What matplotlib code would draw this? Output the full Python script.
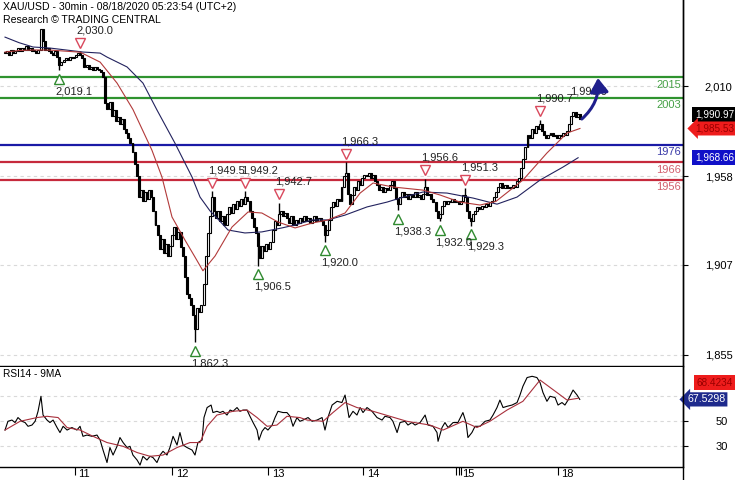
import numpy as np
import matplotlib
matplotlib.use('Agg')
import matplotlib.pyplot as plt
from matplotlib.patches import FancyArrowPatch
from matplotlib.transforms import offset_copy
from matplotlib.lines import Line2D

plt.rcParams['font.family'] = ['Liberation Sans', 'DejaVu Sans']

# ---------------- data ----------------
first_open = 2029.0
closes = [
    2029, 2030, 2028, 2031, 2029, 2030, 2032, 2030, 2032, 2031,
    2033, 2031, 2032, 2030, 2030, 2029, 2031, 2043, 2036, 2031,
    2032, 2030, 2029, 2028, 2030, 2027, 2022, 2024, 2025, 2026,
    2025, 2027, 2026, 2027, 2028, 2029, 2028, 2026, 2021, 2022,
    2020, 2021, 2019, 2021, 2020, 2019, 2018, 2015, 2000, 1997,
    2001, 1993, 1996, 1990, 1992, 1988, 1991, 1985, 1983, 1980,
    1977, 1972, 1965, 1958, 1946, 1950, 1944, 1949, 1945, 1950,
    1946, 1938, 1930, 1924, 1916, 1922, 1914, 1919, 1912, 1918,
    1924, 1929, 1922, 1926, 1917, 1912, 1900, 1890, 1888, 1884,
    1878, 1870, 1882, 1880, 1884, 1896, 1912, 1925, 1935, 1946,
    1938, 1934, 1938, 1932, 1935, 1930, 1936, 1940, 1937, 1942,
    1939, 1944, 1941, 1945, 1942, 1946, 1944, 1938, 1934, 1929,
    1925, 1918, 1911, 1918, 1915, 1919, 1916, 1920, 1927, 1932,
    1930, 1936, 1938, 1935, 1937, 1934, 1931, 1935, 1930, 1933,
    1931, 1934, 1932, 1935, 1932, 1934, 1931, 1933, 1935, 1932,
    1934, 1932, 1930, 1924, 1927, 1933, 1940, 1943, 1941, 1945,
    1944, 1952, 1958, 1960, 1948, 1942, 1947, 1952, 1950, 1955,
    1953, 1957, 1959, 1958, 1960, 1957, 1959, 1955, 1953, 1950,
    1952, 1949, 1951, 1950, 1953, 1955, 1951, 1945, 1942, 1946,
    1949, 1946, 1948, 1945, 1948, 1946, 1949, 1946, 1947, 1945,
    1948, 1952, 1947, 1948, 1945, 1943, 1938, 1934, 1936, 1941,
    1944, 1942, 1944, 1943, 1945, 1943, 1944, 1942, 1944, 1947,
    1946, 1938, 1934, 1932, 1936, 1938, 1940, 1939, 1941, 1940,
    1942, 1941, 1943, 1944, 1946, 1949, 1952, 1954, 1951, 1953,
    1951, 1952, 1951, 1953, 1952, 1955, 1957, 1963, 1968, 1975,
    1982, 1980, 1985, 1983, 1987, 1985, 1988, 1984, 1982, 1980,
    1982, 1983, 1981, 1982, 1980, 1982, 1981, 1983, 1982, 1984,
    1988, 1993, 1995, 1992, 1994, 1990.97,
]

pivot_high_bars = [36, 99, 115, 131, 163, 201, 220, 256]
pivot_high_vals = [2030.0, 1949.5, 1949.2, 1942.7, 1966.3, 1956.6, 1951.3, 1990.7]
pivot_low_bars = [26, 91, 121, 153, 188, 208, 223]
pivot_low_vals = [2019.1, 1862.3, 1906.5, 1920.0, 1938.3, 1932.0, 1929.3]

ma_fast_bars = [0, 7, 14, 22, 36, 45.5, 53.6, 61.2, 70.3, 75.1, 79.9, 86.1, 90.9,
                94.7, 100.5, 108.6, 116.3, 122.9, 130.6, 138.8, 146.9, 154.5, 162.7,
                169.9, 176.1, 185.6, 200, 208.1, 217.7, 227.3, 234.9, 247.8, 259.3,
                268.9, 275.1]
ma_fast_vals = [2029.6, 2030.5, 2030.8, 2030.7, 2029.5, 2023.8, 2011.7, 1996.5, 1973,
                1957.5, 1934.5, 1921.2, 1911.4, 1903.5, 1912, 1928.7, 1937.4, 1936.8,
                1931.6, 1928.2, 1931, 1932.8, 1936.8, 1948.3, 1954.1, 1951.8, 1950,
                1947.2, 1943.1, 1941.4, 1943.5, 1955.8, 1971.4, 1982.9, 1985.53]

ma_slow_bars = [0, 6.7, 13.4, 21.5, 37.3, 45.5, 48.8, 58.4, 66, 72.7, 81.3, 89.5,
                93.3, 98.1, 102.9, 106.7, 114.8, 122.9, 132.5, 138.8, 146.9, 154.5,
                162.7, 173.2, 182.8, 189, 200, 211.5, 224, 235.4, 245, 256, 267, 274.2]
ma_slow_vals = [2038.2, 2035, 2032.5, 2031.9, 2029.6, 2029, 2026.7, 2021, 2011.7,
                1996.2, 1977.1, 1957.5, 1946, 1938, 1932, 1927, 1925.3, 1925.9,
                1928.2, 1929.9, 1932.8, 1932.8, 1935.6, 1940.3, 1943.1, 1945.4,
                1948.9, 1948.3, 1945.4, 1941.9, 1946, 1955.8, 1963.3, 1968.66]

rsi_bars = [0, 1.4, 3.3, 4.8, 6.2, 8.1, 9.6, 11, 12.9, 14.4,
            15.8, 17.2, 18.2, 20.1, 21.5, 23, 24.9, 26.3, 27.8, 29.7,
            32, 34.4, 35.9, 37.3, 39.2, 41.6, 44, 45.5, 46.9, 48.8,
            50.2, 51.7, 53.6, 55, 56.5, 58.4, 59.8, 61.2, 63.2, 64.6,
            66, 67.9, 69.4, 70.8, 72.7, 74.2, 75.6, 77.5, 78.9, 80.4,
            82.3, 83.7, 85.2, 87.1, 89.5, 90.9, 92.3, 94.3, 95.2, 96.7,
            98.6, 99.5, 101.4, 102.9, 104.3, 106.2, 107.7, 109.1, 111, 112.4,
            113.9, 115.8, 117.2, 118.7, 120.6, 121.5, 123, 124.4, 125.8, 127.8,
            129.2, 130.6, 133, 134.9, 136.4, 137.8, 139.7, 141.1, 142.6, 145,
            146.9, 149.3, 151.7, 153.1, 154.5, 156.5, 158.9, 161.2, 162.7, 163.6,
            164.6, 166.5, 168.4, 169.9, 171.3, 173.2, 175.6, 178, 180.4, 181.8,
            184.2, 185.6, 187.6, 189, 191.4, 192.8, 194.7, 196.2, 198.6, 201,
            202.4, 204.8, 206.7, 207.2, 209.1, 210.5, 212, 214.4, 216.7, 219.1,
            220.6, 221.5, 223.4, 224.9, 227.3, 229.7, 232, 233.5, 235.4, 236.8,
            238.3, 240.2, 242.6, 245, 246.4, 247.8, 249.8, 252.2, 254.5, 256,
            257.4, 259.3, 260.8, 263.2, 264.6, 266.5, 267.9, 269.4, 271.8, 273.7,
            275]
rsi_vals = [43, 50, 51, 49, 53, 50, 49, 46, 47, 50,
            58, 70, 55, 51, 49, 51, 45, 41, 46, 43,
            45, 43, 46, 38, 39, 38, 39, 35, 27, 17,
            29, 23, 30, 37, 33, 29, 30, 23, 19, 15,
            22, 19, 22, 21, 17, 23, 26, 23, 29, 38,
            31, 41, 31, 29, 27, 23, 33, 35, 53, 61,
            63, 57, 58, 57, 58, 55, 59, 58, 61, 58,
            59, 59, 54, 49, 43, 35, 42, 45, 43, 47,
            53, 58, 57, 57, 54, 46, 53, 50, 51, 53,
            50, 51, 53, 43, 53, 63, 66, 65, 71, 63,
            53, 58, 55, 61, 57, 61, 58, 53, 51, 54,
            53, 50, 41, 49, 50, 47, 49, 47, 49, 55,
            47, 46, 41, 34, 45, 49, 45, 49, 49, 57,
            49, 37, 41, 46, 46, 50, 51, 55, 61, 67,
            61, 62, 63, 65, 71, 78, 85, 86, 85, 81,
            73, 66, 70, 69, 63, 65, 63, 67, 75, 71,
            67.5298]

rsi_ma_bars = [0, 7.2, 15.3, 20.1, 25.4, 29.7, 35.9, 42.1, 48.8, 56.5,
               63.2, 69.4, 75.6, 82.3, 88.5, 93.3, 96.7, 101.4, 109.1, 115.8,
               120.6, 125.4, 130.1, 134.9, 141.1, 144.5, 152.2, 156.9, 162.7, 168.4,
               176.1, 184.2, 192.3, 203.3, 209.6, 219.1, 225.8, 232, 240.2, 247.8,
               256, 264.1, 268.9, 274.2]
rsi_ma_vals = [43, 50, 53, 54, 53, 45, 43, 38, 33, 30,
               25, 22, 23, 29, 33, 33, 46, 55, 58, 59,
               53, 46, 47, 54, 53, 51, 50, 57, 65, 61,
               58, 54, 50, 47, 43, 50, 45, 50, 59, 66,
               83, 73, 67, 68.4234]

level_vals = [2015, 2003, 1976, 1966, 1956]
level_labels = ['2015', '2003', '1976', '1966', '1956']
level_colors = ['#2f932f', '#2f932f', '#1a1aa6', '#c62a3c', '#c62a3c']
level_text_colors = ['#46a046', '#46a046', '#3a3aa8', '#d2606e', '#d2606e']

day_bars = [33.5, 80, 126, 171.5, 217, 264.5]
day_labels = ['11', '12', '13', '14', '15', '18']

price_ticks = [2010, 1958, 1907, 1855]
rsi_grid = [70, 50, 30]
rsi_ticks = [50, 30]

target_text = '1,996.0'
arrow_from = (276, 1991.0)
arrow_to = (283.7, 2014.6)

last_close = 1990.97
last_fast = 1985.53
last_slow = 1968.66
last_rsi = 67.5298
last_rsi_ma = 68.4234

title1 = 'XAU/USD - 30min - 08/18/2020 05:23:54 (UTC+2)'
title2 = 'Research \u00a9 TRADING CENTRAL'
rsi_title = 'RSI14 - 9MA'

# ---------------- figure ----------------
W, H = 735, 480
fig = plt.figure(figsize=(W / 100, H / 100), dpi=100)
fig.patch.set_facecolor('white')
ax = fig.add_axes([0, 1 - 366 / H, 683 / W, 366 / H])
ax2 = fig.add_axes([0, 13 / H, 683 / W, 100 / H])

xlim = (-2.4, 324.4)
for a in (ax, ax2):
    a.set_xlim(*xlim)
    a.set_facecolor('white')
    for s in ('top', 'left'):
        a.spines[s].set_visible(False)
    for s in ('right', 'bottom'):
        a.spines[s].set_color('black')
        a.spines[s].set_linewidth(1.0)
ax.set_ylim(1848.6, 2059.6)
ax2.set_ylim(13.44, 93.44)

# grid
for t in price_ticks:
    ax.axhline(t, color='#d9d9d9', lw=0.8, ls=(0, (3, 3)), zorder=1)
for t in rsi_grid:
    ax2.axhline(t, color='#d9d9d9', lw=0.8, ls=(0, (3, 3)), zorder=1)

# level lines
for v, lbl, col, tcol in zip(level_vals, level_labels, level_colors, level_text_colors):
    ax.axhline(v, color=col, lw=1.6, zorder=2)
    ax.annotate(lbl, xy=(1, v), xycoords=('axes fraction', 'data'),
                xytext=(-1.5, -5.2), textcoords='offset points', ha='right',
                va='center', fontsize=8, color=tcol, zorder=8)

# candles
c = np.array(closes, float)
n = len(c)
idx = np.arange(n)
o = np.concatenate([[first_open], c[:-1]])
hi = np.maximum(o, c)
lo = np.minimum(o, c)
for b, v in zip(pivot_high_bars, pivot_high_vals):
    hi[b] = max(hi[b], v)
for b, v in zip(pivot_low_bars, pivot_low_vals):
    lo[b] = min(lo[b], v)
up = c >= o
ax.vlines(idx, lo, hi, color='black', lw=1.0, zorder=3)
bottom = np.minimum(o, c)
height = np.maximum(np.abs(c - o), 0.6)
ax.bar(idx[up], height[up], bottom=bottom[up], width=0.95, facecolor='white',
       edgecolor='black', lw=0.8, zorder=4)
ax.bar(idx[~up], height[~up], bottom=bottom[~up], width=0.95, facecolor='black',
       edgecolor='black', lw=0.8, zorder=4)

# moving averages
ax.plot(ma_slow_bars, ma_slow_vals, color='#22225e', lw=0.8, zorder=5)
ax.plot(ma_fast_bars, ma_fast_vals, color='#b23a3a', lw=0.8, zorder=5)

# pivot markers
tr_hi = offset_copy(ax.transData, fig=fig, y=6.0, units='points')
tr_lo = offset_copy(ax.transData, fig=fig, y=-6.0, units='points')
ax.plot(pivot_high_bars, pivot_high_vals, 'v', ms=7.5, mfc='white', mec='#d9485c',
        mew=1.0, transform=tr_hi, zorder=6, clip_on=False)
ax.plot(pivot_low_bars, pivot_low_vals, '^', ms=7.5, mfc='white', mec='#2f8a2f',
        mew=1.0, transform=tr_lo, zorder=6, clip_on=False)
for b, v in zip(pivot_high_bars, pivot_high_vals):
    ax.annotate(f'{v:,.1f}', xy=(b, v), xytext=(-3, 15), textcoords='offset points',
                ha='left', va='center', fontsize=8, color='#222222', zorder=7)
for b, v in zip(pivot_low_bars, pivot_low_vals):
    t = ax.annotate(f'{v:,.1f}', xy=(b, v), xytext=(-3, -15), textcoords='offset points',
                    ha='left', va='center', fontsize=8, color='#222222', zorder=7)
    t.set_clip_on(True)

# projection arrow
arr = FancyArrowPatch(posA=arrow_from, posB=arrow_to,
                      arrowstyle='-|>,head_length=0.6,head_width=0.4',
                      connectionstyle='arc3,rad=0.25', mutation_scale=14,
                      color='#1f1f8c', lw=2.2, zorder=8, shrinkA=0, shrinkB=0)
ax.add_patch(arr)
ax.annotate(target_text, xy=arrow_to, xytext=(-20, -9.5), textcoords='offset points',
            ha='left', va='center', fontsize=8, color='#222222', zorder=7)

# right axis ticks
ax.set_xticks([])
ax.yaxis.tick_right()
ax.set_yticks(price_ticks)
ax.set_yticklabels([f'{t:,}' for t in price_ticks])
ax.tick_params(axis='y', direction='out', length=3.6, width=0.8, pad=12,
               labelsize=8, colors='black')

ax2.yaxis.tick_right()
ax2.set_yticks(rsi_ticks)
ax2.set_yticklabels([str(t) for t in rsi_ticks])
ax2.tick_params(axis='y', direction='out', length=3.6, width=0.8, pad=20,
                labelsize=8)

ax2.set_xticks(day_bars)
ax2.set_xticklabels([''] * len(day_bars))
ax2.set_xticks([day_bars[4] - 1, day_bars[4] + 1], minor=True)
ax2.tick_params(axis='x', which='both', direction='out', length=6, width=0.8)
for b, lbl in zip(day_bars, day_labels):
    ax2.annotate(lbl, xy=(b, 0), xycoords=('data', 'axes fraction'), xytext=(2.5, -1.5),
                 textcoords='offset points', ha='left', va='top', fontsize=8,
                 annotation_clip=False)

# RSI lines
ax2.plot(rsi_bars, rsi_vals, color='black', lw=0.8, zorder=4)
ax2.plot(rsi_ma_bars, rsi_ma_vals, color='#a8303c', lw=0.8, zorder=5)


# value tags on the right
def tag(a, val, text, fc, tc, dx, dy, style, fs=7.2):
    a.annotate(text, xy=(1, val), xycoords=('axes fraction', 'data'),
               xytext=(dx, dy), textcoords='offset points', ha='left', va='center',
               fontsize=fs, color=tc, annotation_clip=False, zorder=20,
               bbox=dict(boxstyle=style, fc=fc, ec=fc, lw=0))


tag(ax, last_close, f'{last_close:,.2f}', 'black', 'white', 8.6, 3.0, 'square,pad=0.25')
tag(ax, last_fast, f'{last_fast:,.2f}', '#ee1c1c', '#9a0000', 8.6, 0, 'larrow,pad=0.2')
tag(ax, last_slow, f'{last_slow:,.2f}', '#1010c8', 'white', 8.6, 0, 'square,pad=0.25')
tag(ax2, last_rsi_ma, f'{last_rsi_ma:.4f}', '#ee1c1c', '#9a0000', 10.0, 11, 'square,pad=0.25')
tag(ax2, last_rsi, f'{last_rsi:.4f}', '#1e2a8c', 'white', 3.0, 0, 'larrow,pad=0.2', fs=7.6)

# texts
fig.text(3 / W, 1 - 7 / H, title1, fontsize=7.6, ha='left', va='center')
fig.text(3 / W, 1 - 20 / H, title2, fontsize=7.6, ha='left', va='center')
fig.text(3 / W, 1 - 374 / H, rsi_title, fontsize=7.3, ha='left', va='center')

# right frame line full height
fig.add_artist(Line2D([683 / W, 683 / W], [0, 1], transform=fig.transFigure,
                      color='black', lw=1.0))

fig.savefig('out.png', dpi=100, facecolor='white')
